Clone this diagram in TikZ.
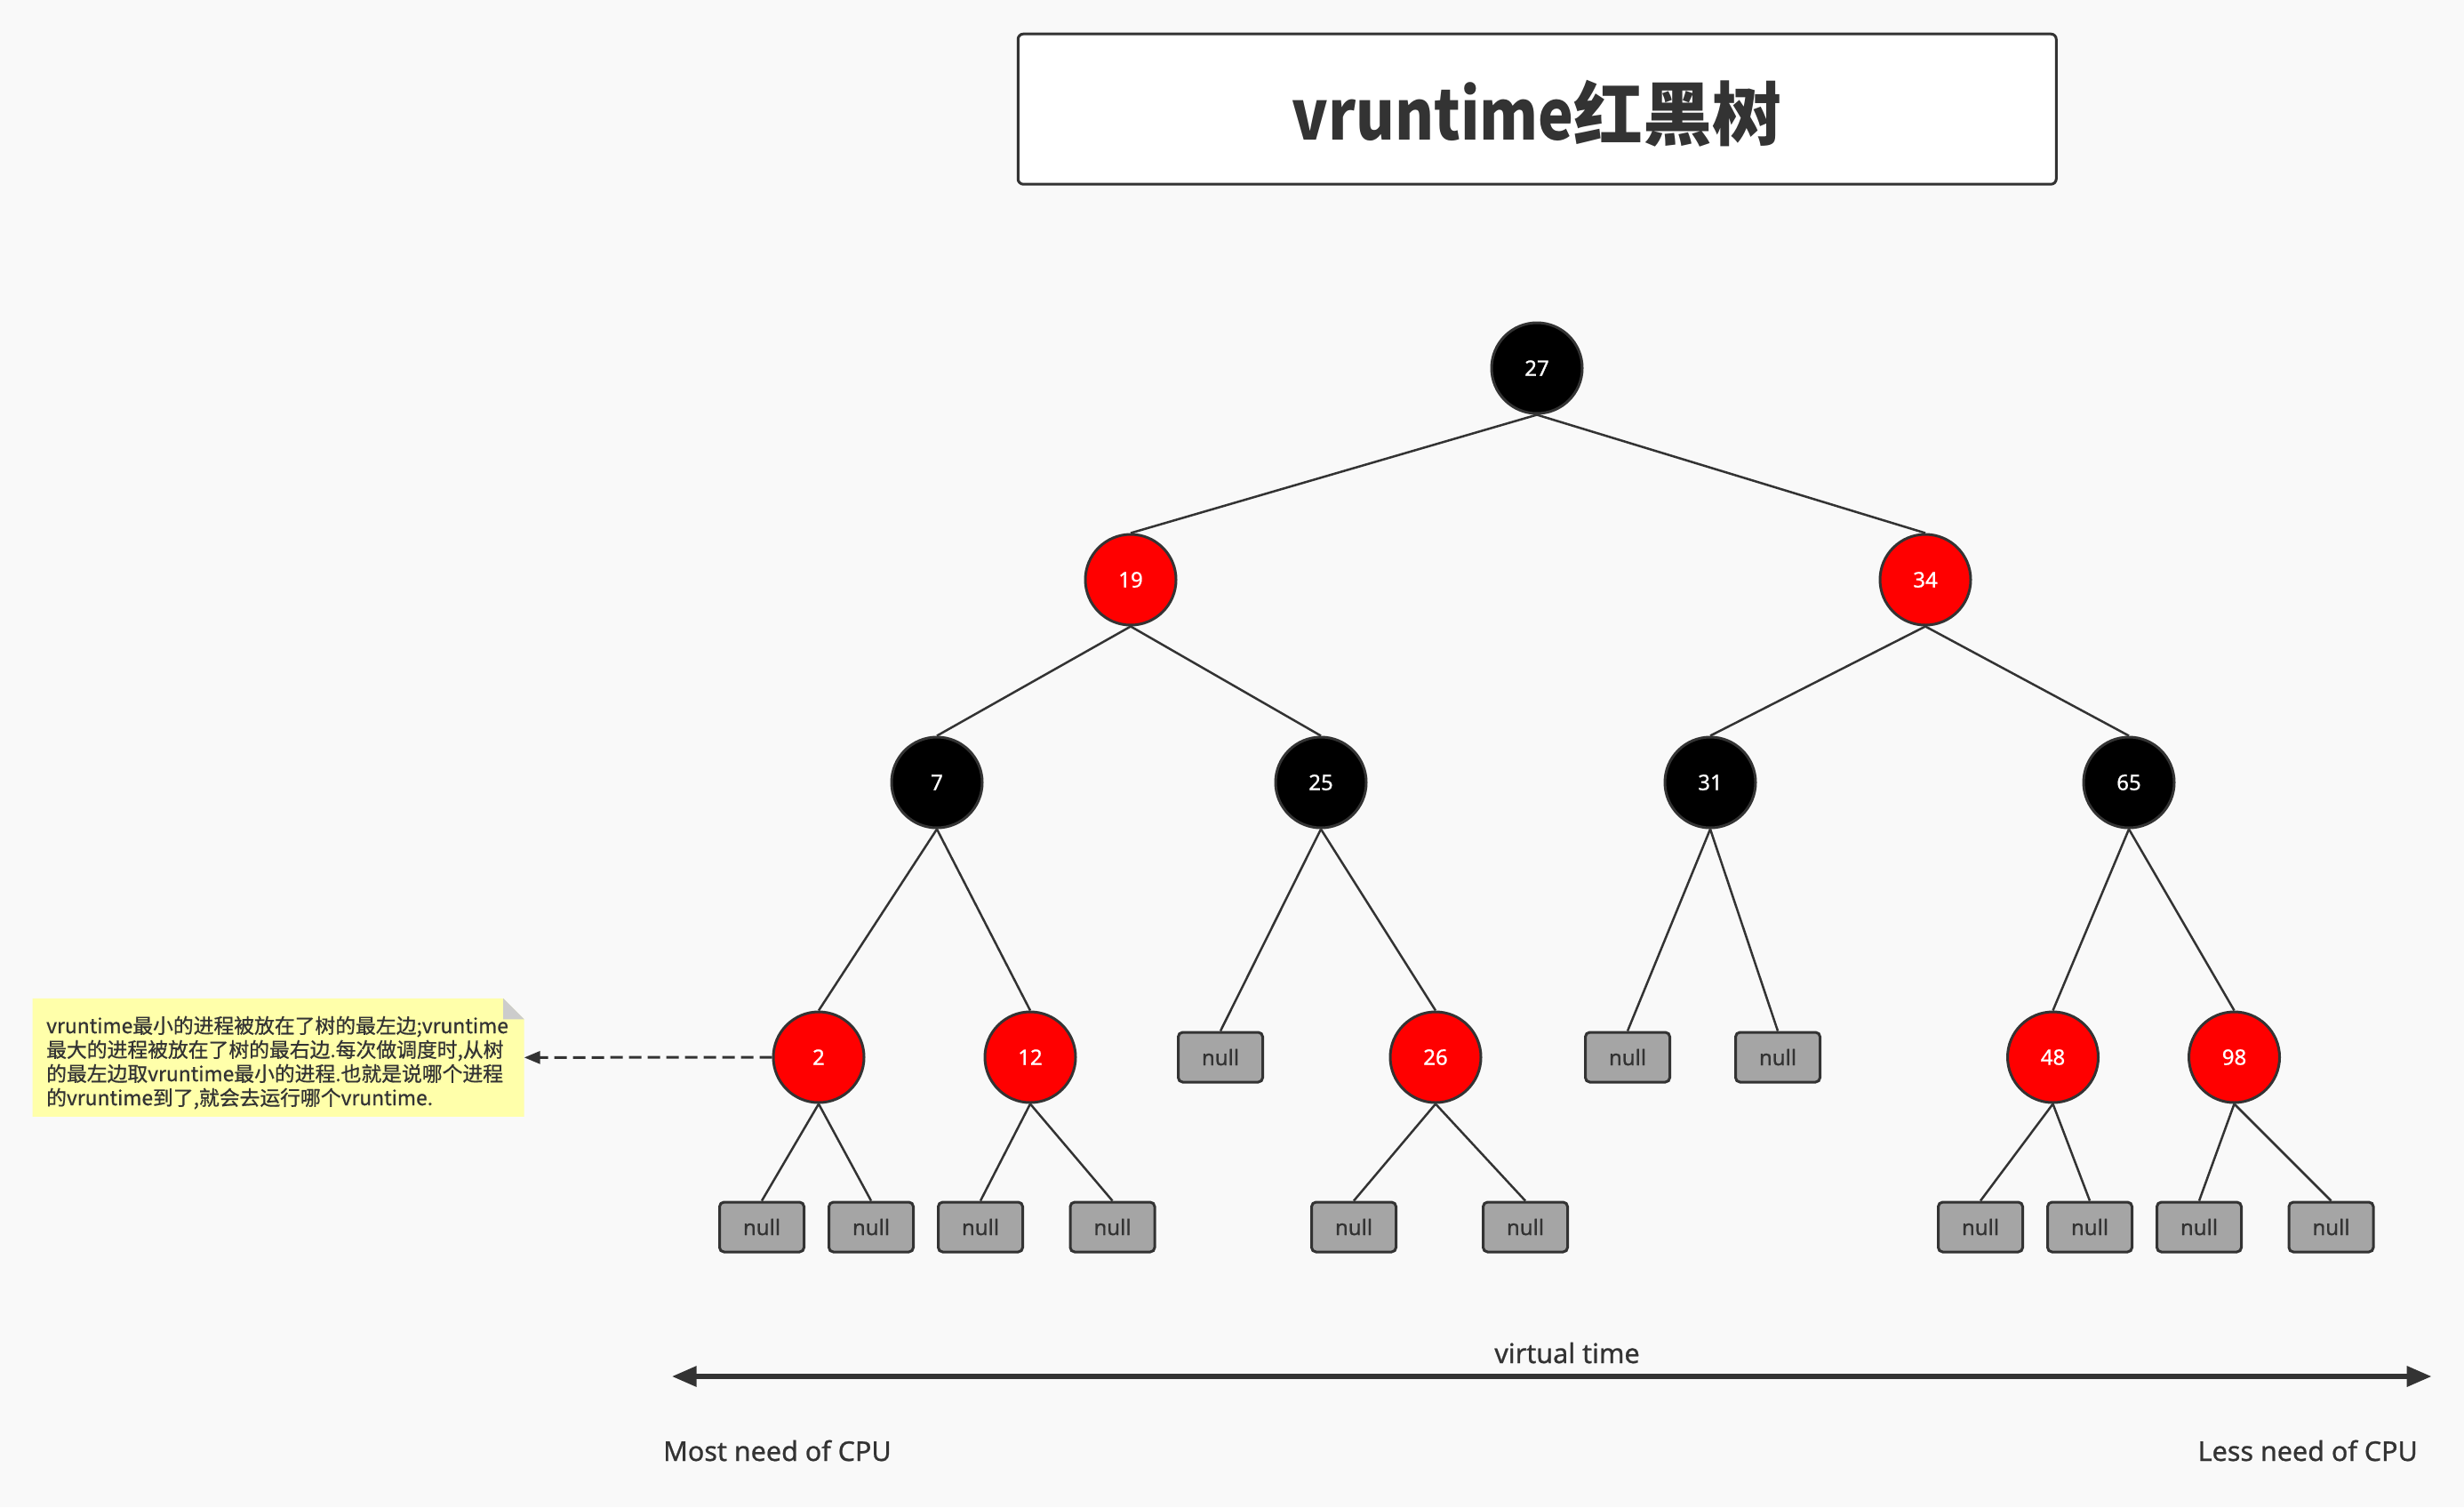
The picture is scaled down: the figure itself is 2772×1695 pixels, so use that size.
\documentclass[tikz,border=0pt]{standalone}
\usepackage{fontspec}
\setmainfont{Noto Sans}
\newfontfamily\latmed{Noto Sans}[FakeBold=0.8]
\newfontfamily\cjk{Noto Sans CJK SC}
\newfontfamily\cjkmed{Noto Sans CJK SC}[FakeBold=0.8]
\newfontfamily\titlelat{Noto Sans CJK SC}[FakeStretch=0.86]
\usetikzlibrary{arrows.meta}
\definecolor{ink}{HTML}{333333}
\definecolor{bgc}{HTML}{F9F9F9}
\definecolor{rbred}{HTML}{FF0000}
\definecolor{nullgray}{HTML}{A5A5A5}
\definecolor{notey}{HTML}{FFFFAA}
\definecolor{foldgray}{HTML}{CCCCCC}
\begin{document}
\begin{tikzpicture}[x=1pt,y=-1pt,
  rbnode/.style={circle, draw=ink, line width=3pt, minimum size=102pt, inner sep=0pt,
    text=white, font=\latmed\fontsize{24}{28}\selectfont},
  blacknode/.style={rbnode, fill=black},
  rednode/.style={rbnode, fill=rbred},
  nullbox/.style={rectangle, rounded corners=5pt, draw=ink, line width=3pt, fill=nullgray,
    minimum width=95pt, minimum height=56pt, inner sep=0pt, text=ink,
    font=\latmed\fontsize{24}{28}\selectfont},
  treeline/.style={draw=ink, line width=2.5pt},
  label/.style={inner sep=0pt, text=ink, font=\latmed\fontsize{30.5}{36}\selectfont},
  timearrow/.style={draw=ink, line width=6pt,
    {Triangle[length=28pt,width=22pt]}-{Triangle[length=28pt,width=22pt]}},
  notearrow/.style={draw=ink, line width=3pt, dash pattern=on 14pt off 7pt,
    -{Triangle[length=18pt,width=14pt]}}
]
\fill[bgc] (0,0) rectangle (2772,1695);
\useasboundingbox (0,0) rectangle (2772,1695);

% title
\node[draw=ink, line width=3pt, fill=white, rounded corners=6pt, minimum width=1168pt,
  minimum height=169pt, inner sep=0pt] (titlebox) at (1729.25,122.7) {};
\node[anchor=base, inner sep=0pt, text=ink, font=\bfseries\fontsize{78}{90}\selectfont]
  (title) at (1729,157) {{\titlelat\bfseries vruntime}{\cjk\bfseries 红黑树}};

% tree nodes
\node[blacknode] (n27) at (1729,414) {27};
\node[rednode] (n19) at (1272,652) {19};
\node[rednode] (n34) at (2166,652) {34};
\node[blacknode] (n7) at (1054,880) {7};
\node[blacknode] (n25) at (1486,880) {25};
\node[blacknode] (n31) at (1924,880) {31};
\node[blacknode] (n65) at (2395,880) {65};
\node[rednode] (n2) at (921,1189) {2};
\node[rednode] (n12) at (1159,1189) {12};
\node[nullbox] (na) at (1373,1189) {null};
\node[rednode] (n26) at (1615,1189) {26};
\node[nullbox] (nb) at (1831,1189) {null};
\node[nullbox] (nc) at (2000,1189) {null};
\node[rednode] (n48) at (2309.5,1189) {48};
\node[rednode] (n98) at (2513.5,1189) {98};
\node[nullbox] (z1) at (857,1380) {null};
\node[nullbox] (z2) at (980,1380) {null};
\node[nullbox] (z3) at (1103,1380) {null};
\node[nullbox] (z4) at (1251.5,1380) {null};
\node[nullbox] (z5) at (1523,1380) {null};
\node[nullbox] (z6) at (1716,1380) {null};
\node[nullbox] (z7) at (2228,1380) {null};
\node[nullbox] (z8) at (2351,1380) {null};
\node[nullbox] (z9) at (2474,1380) {null};
\node[nullbox] (z10) at (2622.5,1380) {null};

% tree edges
\foreach \p/\c in {n27/n19, n27/n34, n19/n7, n19/n25, n34/n31, n34/n65,
  n7/n2, n7/n12, n25/na, n25/n26, n31/nb, n31/nc, n65/n48, n65/n98,
  n2/z1, n2/z2, n12/z3, n12/z4, n26/z5, n26/z6, n48/z7, n48/z8, n98/z9, n98/z10}
  \draw[treeline] (\p.south) -- (\c.north);

% note
\node[minimum width=552.8pt, minimum height=132.7pt, inner sep=0pt] (note) at (313.1,1189.35) {};
\fill[notey] (note.north west) -- ([xshift=-23.5pt]note.north east)
  -- ([yshift=-23.5pt]note.north east) -- (note.south east) -- (note.south west) -- cycle;
\fill[foldgray] ([xshift=-23.5pt]note.north east) -- ([xshift=-23.5pt,yshift=-23.5pt]note.north east)
  -- ([yshift=-23.5pt]note.north east) -- cycle;
\node[anchor=base west, inner sep=0pt, text=ink, font=\cjkmed\fontsize{22.8}{27}\selectfont]
  (notetext) at (52,1162) {\vtop{%
    \hbox{vruntime最小的进程被放在了树的最左边;vruntime}%
    \hbox{最大的进程被放在了树的最右边.每次做调度时,从树}%
    \hbox{的最左边取vruntime最小的进程.也就是说哪个进程}%
    \hbox{的vruntime到了,就会去运行哪个vruntime.}}};
\draw[notearrow] (n2.west) -- (note.east);

% time axis
\coordinate (tl) at (755.7,1548);
\coordinate (tr) at (2735.7,1548);
\draw[timearrow] (tl) -- (tr);
\node[label, anchor=base] (vt) at (1763,1533) {virtual time};
\node[label, anchor=base west] (most) at (746,1643) {Most need of CPU};
\node[label, anchor=base east] (less) at (2720,1643) {Less need of CPU};
\end{tikzpicture}
\end{document}
